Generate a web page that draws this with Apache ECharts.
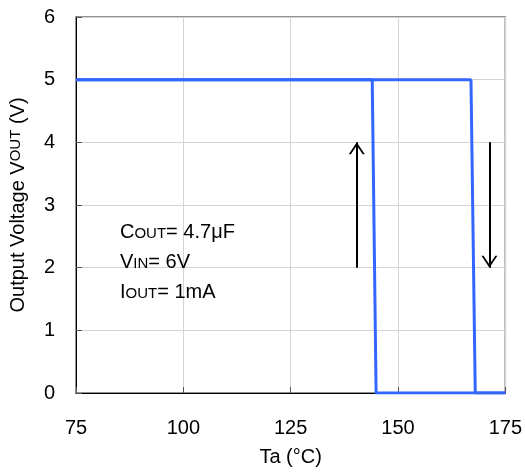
<!DOCTYPE html>
<html>
<head>
<meta charset="utf-8">
<script src="https://cdn.jsdelivr.net/npm/echarts@6/dist/echarts.min.js"></script>
<style>html,body{margin:0;padding:0;background:#fff}#c{width:525px;height:472px}</style>
</head>
<body>
<div id="c"></div>
<script>
// Data
var xTicks = [75, 100, 125, 150, 175];
var yTicks = [0, 1, 2, 3, 4, 5, 6];
// Heating path (Ta rising): output stays at 5 V until ~167-168 °C, then drops to 0
var heatX = [75, 167, 168, 175];
var heatY = [5, 5, 0, 0];
// Cooling path (Ta falling): output stays 0 until ~145 °C, then returns to 5 V
var coolX = [175, 144.9, 144, 75];
var coolY = [0, 0, 5, 5];
// Direction arrows (x position, from value, to value)
var arrowUp = {x: 140.4, from: 2, to: 4};
var arrowDown = {x: 171.3, from: 4, to: 2};
var noteLines = [
  ['C', 'OUT', '= 4.7μF'],
  ['V', 'IN', '= 6V'],
  ['I', 'OUT', '= 1mA']
];

function pairs(xs, ys){ return xs.map(function(x,i){return [x, ys[i]];}); }

var FONT = 'Liberation Sans, Arial, sans-serif';
var chart = echarts.init(document.getElementById('c'), null, {renderer:'canvas'});
var arrowPath = 'path://M5,0 L5,0 Z M0,20 L5,10 L10,20 L8.7,20 L5,12.6 L1.3,20 Z';

var noteText = noteLines.map(function(l){ return '{b|' + l[0] + '}{s|' + l[1] + '}{b|' + l[2] + '}'; }).join('\n');

chart.setOption({
  animation: false,
  backgroundColor: '#fff',
  grid: {left: 75, right: 19, top: 17, bottom: 78, show: true, borderColor: '#6e6e6e', borderWidth: 1.5, backgroundColor: 'transparent'},
  xAxis: {
    type: 'value', min: xTicks[0], max: xTicks[xTicks.length-1], interval: 25,
    name: 'Ta (°C)', nameLocation: 'middle', nameGap: 54,
    nameTextStyle: {fontFamily: FONT, fontSize: 20, color: '#000'},
    axisLine: {show: true, onZero: false, lineStyle: {color: '#000', width: 1}},
    axisTick: {show: true, inside: true, length: 6, lineStyle: {color: '#555'}},
    axisLabel: {fontFamily: FONT, fontSize: 20, color: '#000', margin: 25},
    splitLine: {show: true, lineStyle: {color: '#d4d4d4', width: 1}}
  },
  yAxis: {
    type: 'value', min: yTicks[0], max: yTicks[yTicks.length-1], interval: 1,
    name: 'Output Voltage V{s|OUT} (V)', nameLocation: 'middle', nameGap: 47,
    nameTextStyle: {fontFamily: FONT, fontSize: 20, color: '#000',
      rich: {s: {fontFamily: FONT, fontSize: 15, color: '#000', verticalAlign: 'bottom', padding: [0,0,6,0]}}},
    axisLine: {show: true, onZero: false, lineStyle: {color: '#000', width: 1}},
    axisTick: {show: true, inside: true, length: 6, lineStyle: {color: '#555'}},
    axisLabel: {fontFamily: FONT, fontSize: 20, color: '#000', margin: 21},
    splitLine: {show: true, lineStyle: {color: '#d4d4d4', width: 1}}
  },
  series: [
    {type: 'line', data: pairs(heatX, heatY), showSymbol: false, symbol: 'none',
     lineStyle: {color: '#3366ff', width: 3}, z: 3},
    {type: 'line', data: pairs(coolX, coolY), showSymbol: false, symbol: 'none',
     lineStyle: {color: '#3366ff', width: 3}, z: 3,
     markLine: {
       silent: true, symbol: ['none', arrowPath], symbolSize: [16, 24],
       label: {show: false},
       lineStyle: {color: '#000', width: 2, type: 'solid'},
       data: [
         [{coord: [arrowUp.x, arrowUp.from]}, {coord: [arrowUp.x, arrowUp.to]}],
         [{coord: [arrowDown.x, arrowDown.from]}, {coord: [arrowDown.x, arrowDown.to]}]
       ]
     }}
  ],
  graphic: [{
    type: 'text', left: 120, top: 222, z: 10,
    style: {
      text: noteText, fill: '#000',
      rich: {
        b: {fontFamily: FONT, fontSize: 20, lineHeight: 30, fill: '#000'},
        s: {fontFamily: FONT, fontSize: 15, fill: '#000', verticalAlign: 'bottom', padding: [0,0,6,0]}
      }
    }
  }]
});
</script>
</body>
</html>
